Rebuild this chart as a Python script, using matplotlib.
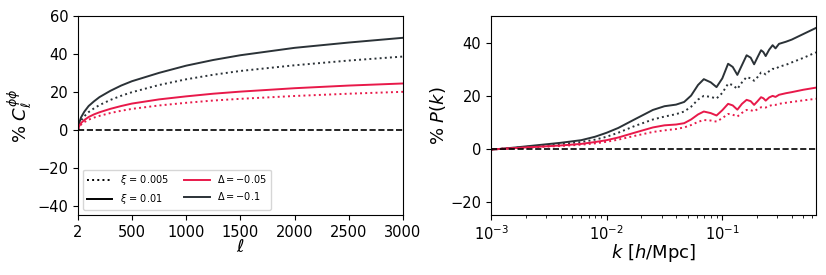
import numpy as np
import matplotlib
matplotlib.use("Agg")
import matplotlib.pyplot as plt

# ---------------- data: left panel (lensing potential) ----------------
ell = [2, 10, 30, 60, 100, 150, 200, 300, 400, 500, 750, 1000, 1250, 1500, 2000, 2500, 3000]
cl_dark_solid = [0, 3.0, 6.5, 9.5, 12.5, 15.0, 17.2, 20.5, 23.3, 25.6, 30.0, 33.8, 36.8, 39.3, 43.2, 46.0, 48.5]
cl_dark_dot = [0, 2.2, 4.8, 7.1, 9.3, 11.3, 13.0, 15.7, 17.9, 19.8, 23.6, 26.6, 29.0, 31.0, 34.0, 36.5, 38.6]
cl_red_solid = [0, 1.6, 3.5, 5.1, 6.7, 8.1, 9.2, 11.0, 12.5, 13.8, 16.0, 17.6, 19.0, 20.1, 21.9, 23.3, 24.4]
cl_red_dot = [0, 1.2, 2.7, 4.0, 5.3, 6.4, 7.3, 8.8, 10.0, 11.0, 12.8, 14.2, 15.4, 16.3, 17.8, 19.0, 20.0]

# ---------------- data: right panel (matter power spectrum) ----------------
log10_k = [-3.00, -2.80, -2.60, -2.40, -2.22, -2.10, -2.00, -1.90, -1.76, -1.60, -1.50, -1.40,
           -1.33, -1.27, -1.21, -1.16, -1.10, -1.05, -1.00, -0.95, -0.91, -0.87, -0.83, -0.79,
           -0.755, -0.725, -0.695, -0.665, -0.645, -0.625, -0.595, -0.565, -0.54, -0.51,
           -0.45, -0.40, -0.30, -0.19]
pk_dark_solid = [-0.4, 0.4, 1.3, 2.2, 3.2, 4.5, 6.0, 7.8, 11.0, 14.6, 16.0, 16.6,
                 17.6, 20.0, 24.0, 26.2, 25.0, 23.2, 26.5, 32.0, 30.8, 27.8, 31.5, 35.2,
                 34.3, 31.8, 34.5, 37.1, 36.4, 34.9, 37.3, 39.0, 37.8, 39.5,
                 40.3, 41.1, 43.2, 45.5]
pk_dark_dot = [-0.3, 0.3, 1.0, 1.7, 2.5, 3.4, 4.5, 6.0, 8.5, 11.0, 12.1, 13.0,
               14.0, 15.8, 18.5, 19.9, 19.5, 18.9, 21.0, 24.5, 24.0, 22.5, 25.0, 27.0,
               26.5, 25.6, 27.0, 28.7, 28.6, 28.0, 29.2, 30.1, 30.0, 30.9,
               31.6, 32.5, 34.2, 36.3]
pk_red_solid = [-0.3, 0.2, 0.7, 1.2, 1.8, 2.5, 3.2, 4.2, 6.0, 8.0, 8.8, 9.1,
                9.6, 11.0, 12.9, 14.0, 13.4, 12.5, 14.5, 16.9, 16.3, 14.7, 16.9, 18.4,
                17.9, 16.5, 17.9, 19.4, 19.0, 18.1, 19.3, 19.9, 19.5, 20.3,
                20.9, 21.3, 22.2, 23.0]
pk_red_dot = [-0.3, 0.2, 0.6, 1.0, 1.5, 2.0, 2.6, 3.4, 4.8, 6.3, 6.9, 7.4,
              8.0, 8.9, 10.1, 10.8, 10.6, 10.2, 11.5, 13.1, 12.8, 12.1, 13.5, 14.6,
              14.5, 14.1, 14.9, 15.6, 15.6, 15.5, 16.1, 16.5, 16.5, 16.9,
              17.3, 17.6, 18.2, 18.8]

legend_labels = [r'$\xi$ = 0.005', r'$\xi$ = 0.01', r'$\Delta = -0.05$', r'$\Delta = -0.1$']

k = [10 ** v for v in log10_k]

DARK = '#2b3237'
RED = '#e8194a'
LW = 1.4

fig = plt.figure(figsize=(8.26, 2.75), dpi=100)
ax1 = fig.add_axes([78 / 826, 60 / 275, 325 / 826, 199 / 275])
ax2 = fig.add_axes([491 / 826, 60 / 275, 325 / 826, 199 / 275])

# left panel
ax1.plot(ell, cl_dark_dot, color=DARK, ls=':', lw=LW)
ax1.plot(ell, cl_dark_solid, color=DARK, ls='-', lw=LW)
ax1.plot(ell, cl_red_dot, color=RED, ls=':', lw=LW)
ax1.plot(ell, cl_red_solid, color=RED, ls='-', lw=LW)
ax1.axhline(0, color='k', ls='--', lw=1.2)
ax1.set_xlim(2, 3000)
ax1.set_ylim(-45, 60)
ax1.set_xticks([2, 500, 1000, 1500, 2000, 2500, 3000])
ax1.set_yticks([-40, -20, 0, 20, 40, 60])
ax1.set_xlabel(r'$\ell$', fontsize=13, labelpad=-1)
ax1.set_ylabel(r'% $C_\ell^{\phi\phi}$', fontsize=13, labelpad=2)
ax1.tick_params(labelsize=10.5)

h1, = ax1.plot([], [], color='k', ls=':', lw=LW)
h2, = ax1.plot([], [], color='k', ls='-', lw=LW)
h3, = ax1.plot([], [], color=RED, ls='-', lw=LW)
h4, = ax1.plot([], [], color=DARK, ls='-', lw=LW)
ax1.legend([h1, h2, h3, h4], legend_labels, ncol=2, loc='lower left',
           fontsize=7, frameon=True, handlelength=2.6, columnspacing=1.6,
           borderaxespad=0.5)

# right panel
ax2.plot(k, pk_dark_dot, color=DARK, ls=':', lw=LW)
ax2.plot(k, pk_dark_solid, color=DARK, ls='-', lw=LW)
ax2.plot(k, pk_red_dot, color=RED, ls=':', lw=LW)
ax2.plot(k, pk_red_solid, color=RED, ls='-', lw=LW)
ax2.axhline(0, color='k', ls='--', lw=1.2)
ax2.set_xscale('log')
ax2.set_xlim(1e-3, 10 ** -0.19)
ax2.set_ylim(-25, 50)
ax2.set_yticks([-20, 0, 20, 40])
ax2.set_xlabel(r'$k$ [$h$/Mpc]', fontsize=13, labelpad=-1)
ax2.set_ylabel(r'% $P(k)$', fontsize=13, labelpad=2)
ax2.tick_params(labelsize=10.5)

fig.savefig('out.png', dpi=100)
